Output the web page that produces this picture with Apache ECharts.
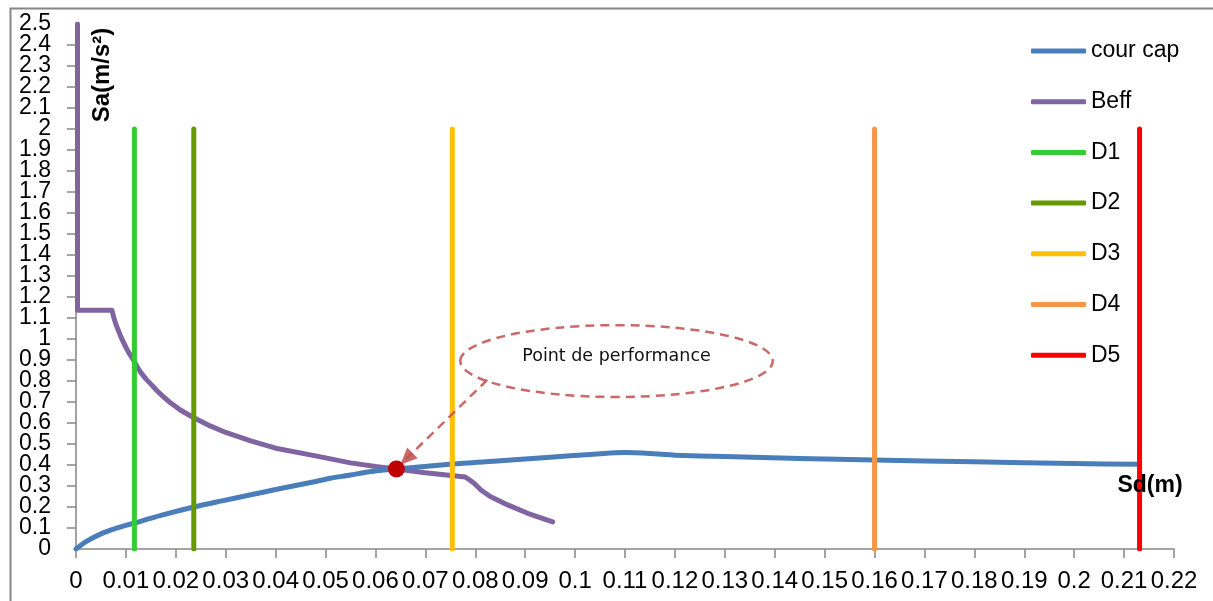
<!DOCTYPE html>
<html><head><meta charset="utf-8">
<script src="https://cdn.jsdelivr.net/npm/echarts@6/dist/echarts.min.js"></script>
<style>html,body{margin:0;padding:0;background:#fff}#c{width:1213px;height:601px}</style>
</head><body><div id="c"></div>
<script>
// ---- data ----
const courCapSd = [0, 0.002, 0.005, 0.008, 0.0116, 0.017, 0.0236, 0.029, 0.035, 0.04, 0.0475, 0.051, 0.055, 0.0584, 0.0642, 0.0754, 0.085, 0.095, 0.103, 0.11, 0.115, 0.12, 0.13, 0.145, 0.16, 0.18, 0.2, 0.2131];
const courCapSa = [0, 0.035, 0.072, 0.098, 0.123, 0.16, 0.2, 0.228, 0.258, 0.283, 0.319, 0.337, 0.352, 0.367, 0.381, 0.405, 0.42, 0.437, 0.45, 0.459, 0.455, 0.447, 0.44, 0.431, 0.424, 0.415, 0.407, 0.403];
const beffSd = [0.0003, 0.0003, 0.0072, 0.0076, 0.008, 0.0085, 0.009, 0.0095, 0.01, 0.0107, 0.0115, 0.0122, 0.013, 0.014, 0.015, 0.0162, 0.0175, 0.019, 0.0209, 0.0236, 0.027, 0.03, 0.035, 0.04, 0.0475, 0.055, 0.06, 0.0642, 0.07, 0.078, 0.0788, 0.0797, 0.0812, 0.083, 0.0865, 0.0905, 0.0955];
const beffSa = [2.5, 1.137, 1.137, 1.1, 1.07, 1.04, 1.01, 0.985, 0.96, 0.93, 0.9, 0.87, 0.84, 0.81, 0.785, 0.755, 0.725, 0.695, 0.662, 0.625, 0.585, 0.555, 0.515, 0.48, 0.446, 0.41, 0.393, 0.381, 0.363, 0.343, 0.33, 0.314, 0.28, 0.25, 0.21, 0.17, 0.129];
const dNames = ['D1', 'D2', 'D3', 'D4', 'D5'];
const dSd = [0.0117, 0.0236, 0.0754, 0.160, 0.2131];
const dTopSa = 2.0;
const perfPoint = [0.0642, 0.381];
const arrowFrom = [0.0824, 0.805];
const arrowTo = [0.0662, 0.43];
const ellipseCenter = [0.1083, 0.895];
const ellipseRadius = [0.0313, 0.171];
const annotationText = 'Point de performance';
const xTitle = 'Sd(m)';
const yTitle = 'Sa(m/s²)';

const FONT = 'Liberation Sans';
const colors = {cour: '#4A7EBB', beff: '#8064A2', D1: '#33CC33', D2: '#669900', D3: '#FFC000', D4: '#F79646', D5: '#FF0000'};

const zip = (a, b) => a.map((v, i) => [v, b[i]]);

const series = [
  {name: 'cour cap', type: 'line', data: zip(courCapSd, courCapSa), symbol: 'none', z: 3, smooth: 0.25,
   lineStyle: {width: 5, color: colors.cour, cap: 'round', join: 'round'}, itemStyle: {color: colors.cour},
   markLine: {silent: true, symbol: ['none', 'triangle'], symbolSize: [15, 17], label: {show: false},
     lineStyle: {type: [9, 6], width: 2.5, color: 'rgba(192,80,77,0.85)'},
     data: [[{coord: arrowFrom}, {coord: arrowTo}]]}},
  {name: 'Beff', type: 'line', data: zip(beffSd, beffSa), symbol: 'none', z: 2,
   lineStyle: {width: 5, color: colors.beff, cap: 'round', join: 'round'}, itemStyle: {color: colors.beff}}
];
dNames.forEach((n, i) => {
  series.push({name: n, type: 'line', data: [[dSd[i], 0], [dSd[i], dTopSa]], symbol: 'none', z: 4,
    lineStyle: {width: 5, color: colors[n], cap: 'round'}, itemStyle: {color: colors[n]}});
});
series.push({name: 'perf', type: 'scatter', data: [perfPoint], symbolSize: 17, z: 10,
  itemStyle: {color: '#C00000', opacity: 1}});

const chart = echarts.init(document.getElementById('c'), null, {renderer: 'canvas'});
const axisCommon = {
  axisLine: {show: true, lineStyle: {color: '#868686', width: 1.5}},
  axisTick: {show: true, inside: false, length: 9, lineStyle: {color: '#868686', width: 1.5}},
  splitLine: {show: false}
};
const yLabel = {fontFamily: FONT, fontSize: 23, color: '#000', margin: 25, formatter: v => String(+v.toFixed(1))};
chart.setOption({
  animation: false,
  backgroundColor: '#fff',
  grid: {left: 76, right: 39, top: 24, bottom: 52, containLabel: false},
  xAxis: Object.assign({type: 'value', min: 0, max: 0.22, interval: 0.01,
    axisLabel: {fontFamily: FONT, fontSize: 24, color: '#000', margin: 20, showMaxLabel: true, showMinLabel: true, hideOverlap: false,
      formatter: v => String(+v.toFixed(2))}}, axisCommon),
  yAxis: [
    Object.assign({type: 'value', min: 0, max: 2.5, interval: 0.1,
      axisLabel: Object.assign({showMinLabel: false, showMaxLabel: false}, yLabel)}, axisCommon),
    {type: 'value', position: 'left', min: 0, max: 2.5, interval: 2.5,
      axisLine: {show: false}, axisTick: {show: false}, splitLine: {show: false},
      axisLabel: Object.assign({showMinLabel: true, showMaxLabel: true}, yLabel)}
  ],
  legend: {orient: 'vertical', left: 1031, top: 38, padding: 0, itemWidth: 55, itemHeight: 5, itemGap: 24.7,
    icon: 'roundRect',
    data: ['cour cap', 'Beff'].concat(dNames),
    textStyle: {fontFamily: FONT, fontSize: 23, color: '#000', lineHeight: 26}},
  series: series
});

// annotation graphics positioned from data coordinates
const c = chart.convertToPixel({gridIndex: 0}, ellipseCenter);
const e = chart.convertToPixel({gridIndex: 0}, [ellipseCenter[0] + ellipseRadius[0], ellipseCenter[1] + ellipseRadius[1]]);
chart.setOption({
  graphic: [
    {type: 'rect', left: 8, top: 6, shape: {width: 1260, height: 700}, silent: true, z: 0,
     style: {fill: 'none', stroke: '#868686', lineWidth: 2}},
    {type: 'ellipse', shape: {cx: c[0], cy: c[1], rx: e[0] - c[0], ry: c[1] - e[1]}, z: 20, silent: true,
     style: {fill: 'none', stroke: 'rgba(192,80,77,0.85)', lineWidth: 2.5, lineDash: [9, 6]}},
    {type: 'text', x: c[0], y: c[1] - 5, z: 21, silent: true,
     style: {text: annotationText, fontFamily: 'DejaVu Sans', fontSize: 17.5, fill: '#111', align: 'center', verticalAlign: 'middle'}},
    {type: 'text', x: 102, y: 75, rotation: Math.PI / 2, z: 21, silent: true,
     style: {text: yTitle, fontFamily: FONT, fontWeight: 'bold', fontSize: 24, fill: '#000', align: 'center', verticalAlign: 'middle'}},
    {type: 'text', x: 1150, y: 486, z: 21, silent: true,
     style: {text: xTitle, fontFamily: FONT, fontWeight: 'bold', fontSize: 23, fill: '#000', align: 'center', verticalAlign: 'middle'}}
  ]
});
</script>
</body></html>
